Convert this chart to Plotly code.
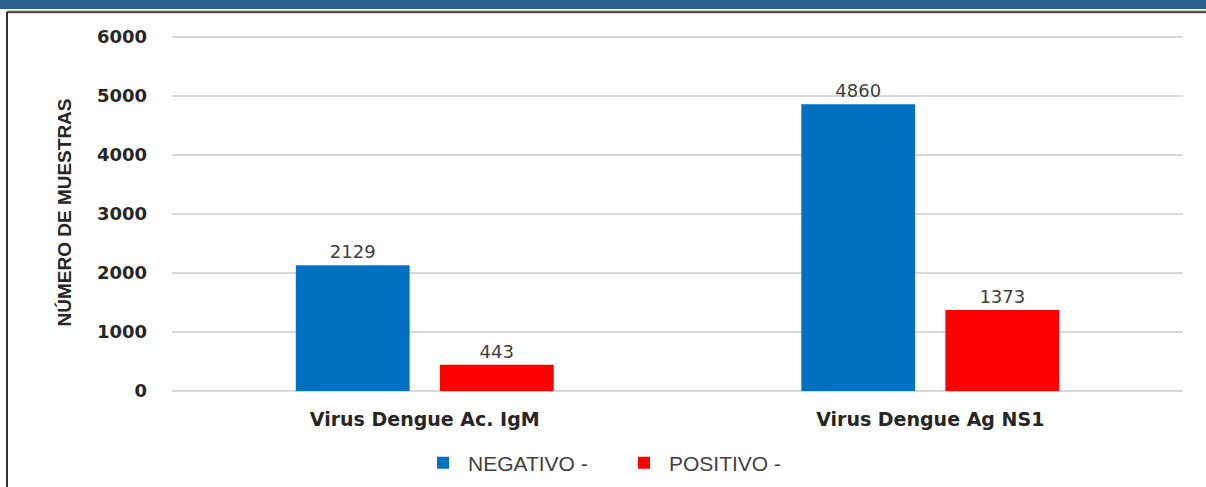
import plotly.graph_objects as go

categories = ["Virus Dengue Ac. IgM", "Virus Dengue Ag NS1"]
negativo = [2129, 4860]
positivo = [443, 1373]
series_names = ["NEGATIVO -", "POSITIVO -"]
y_ticks = [0, 1000, 2000, 3000, 4000, 5000, 6000]

L, R, T, B = 172, 23, 34, 96
W, H = 1206, 487
pw, ph = W - L - R, H - T - B

def px_x(p):
    return (p - L) / pw

def px_y(p):
    return (H - B - p) / ph

label_font = dict(family="DejaVu Sans", size=18, color="#404040")
clear_line = dict(color="rgba(0,0,0,0)", width=10)

fig = go.Figure()
fig.add_trace(go.Bar(x=categories, y=negativo, name=series_names[0],
                     marker=dict(color="#0070C0", line=clear_line),
                     text=negativo, textposition="outside",
                     textfont=label_font, cliponaxis=False))
fig.add_trace(go.Bar(x=categories, y=positivo, name=series_names[1],
                     marker=dict(color="#FF0000", line=clear_line),
                     text=positivo, textposition="outside",
                     textfont=label_font, cliponaxis=False))

fig.update_layout(
    width=W, height=H,
    margin=dict(l=L, r=R, t=T, b=B, autoexpand=False),
    paper_bgcolor="white", plot_bgcolor="white",
    barmode="group", bargap=0.43, bargroupgap=0.21,
    showlegend=True,
    legend=dict(orientation="h", x=px_x(619), xanchor="center",
                yref="container", y=1 - 463 / H, yanchor="middle",
                font=dict(family="Liberation Sans", size=21, color="#404040"),
                itemwidth=40, entrywidth=146, entrywidthmode="pixels",
                traceorder="normal"),
    xaxis=dict(showline=False, ticks="", ticklabelstandoff=15,
               tickfont=dict(family="DejaVu Sans", size=19, color="#262626", weight="bold")),
    yaxis=dict(range=[0, 6050], tickvals=y_ticks, showgrid=True, gridcolor="#d9d9d9",
               gridwidth=1.5, zeroline=True, zerolinecolor="#d9d9d9", zerolinewidth=1.5,
               showline=False, ticks="", ticklabelstandoff=24,
               tickfont=dict(family="DejaVu Sans", size=18, color="#262626", weight="bold"),
               title=dict(text="NÚMERO DE MUESTRAS", standoff=20,
                          font=dict(family="Liberation Sans Narrow, Liberation Sans", size=19,
                                    color="#262626", weight="bold"))),
    shapes=[
        dict(type="rect", xref="paper", yref="paper", x0=px_x(0), x1=px_x(W),
             y0=px_y(9), y1=px_y(0), fillcolor="#2E5F8E", line=dict(width=0), layer="above"),
        dict(type="line", xref="paper", yref="paper", x0=px_x(7), x1=px_x(W),
             y0=px_y(12), y1=px_y(12), line=dict(color="#555555", width=2.5)),
        dict(type="line", xref="paper", yref="paper", x0=px_x(7), x1=px_x(7),
             y0=px_y(12), y1=px_y(H), line=dict(color="#333333", width=2)),
    ],
)

fig.write_html("out.html", config={"displayModeBar": False},
               post_script="document.body.style.margin='0';document.body.style.overflow='hidden';")
